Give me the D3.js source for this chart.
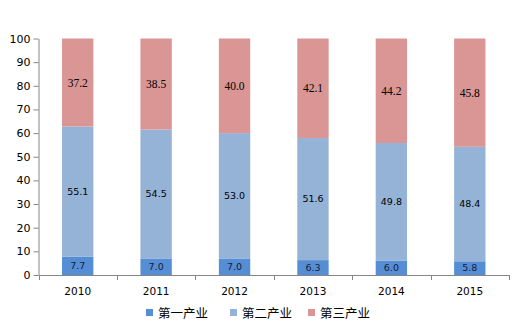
<!DOCTYPE html>
<html><head><meta charset="utf-8">
<script src="https://cdn.jsdelivr.net/npm/d3@7"></script>
<style>body{margin:0;background:#fff}svg{display:block}</style>
</head><body><svg id="c" width="520" height="328"></svg>
<script>
const years = ["2010","2011","2012","2013","2014","2015"];
const primary = [7.7, 7.0, 7.0, 6.3, 6.0, 5.8];
const secondary = [55.1, 54.5, 53.0, 51.6, 49.8, 48.4];
const tertiary = [37.2, 38.5, 40.0, 42.1, 44.2, 45.8];
const seriesNames = ["第一产业","第二产业","第三产业"];
const yTicks = [0,10,20,30,40,50,60,70,80,90,100];

const colors = ["#558ED5","#95B3D7","#D99694"];
const svg = d3.select("#c");
const L = 38.5, R = 509, T = 38.5, B = 275;
const x = d3.scaleBand().domain(years).range([L, R]).paddingInner(0.6).paddingOuter(0.3);
const xb = d3.scaleBand().domain(years).range([L, R]);
const y = d3.scaleLinear().domain([0,100]).range([B, T]);

const rows = years.map((yr,i)=>({year:yr, s0:primary[i], s1:secondary[i], s2:tertiary[i]}));
const stack = d3.stack().keys(["s0","s1","s2"])(rows);

stack.forEach((layer, li) => {
  const g = svg.append("g");
  g.selectAll("rect").data(layer).join("rect")
    .attr("x", d => x(d.data.year))
    .attr("width", x.bandwidth())
    .attr("y", d => y(d[1]))
    .attr("height", d => y(d[0]) - y(d[1]))
    .attr("fill", colors[li]);
  g.selectAll("text").data(layer).join("text")
    .attr("x", d => x(d.data.year) + x.bandwidth()/2)
    .attr("y", d => y((d[0]+d[1])/2))
    .attr("dy", "0.35em")
    .attr("text-anchor","middle")
    .style("font-family", li===2 ? "'Liberation Serif', 'Times New Roman', serif" : "'DejaVu Sans', sans-serif")
    .style("font-size", li===2 ? "11.5px" : "9.5px")
    .attr("fill", li===0 ? "#1a1a3a" : "#000")
    .text(d => (d[1]-d[0]).toFixed(1));
});

// Y axis
const ya = svg.append("g").attr("transform",`translate(${L},0)`)
  .call(d3.axisLeft(y).tickValues(yTicks).tickSize(5).tickSizeOuter(0).tickPadding(3));
ya.select(".domain").attr("stroke","#868686");
ya.selectAll(".tick line").attr("stroke","#868686");
ya.selectAll("text").style("font-family","'DejaVu Sans', sans-serif").style("font-size","11px").attr("fill","#000");

// X axis
const xa = svg.append("g").attr("transform",`translate(0,${B})`)
  .call(d3.axisBottom(xb).tickSize(0).tickPadding(13));
xa.select(".domain").attr("stroke","#868686").attr("d",`M${L},0.5H${R}`);
xa.selectAll("text").style("font-family","'DejaVu Sans', sans-serif").style("font-size","10.5px").attr("fill","#000");
const bounds = years.map(yr => xb(yr)).concat([R]);
svg.append("g").selectAll("line").data(bounds).join("line")
  .attr("x1", d=>Math.round(d)+0.5).attr("x2", d=>Math.round(d)+0.5)
  .attr("y1", B).attr("y2", B+5).attr("stroke","#868686");

// Legend
const legX = [146, 230, 308];
const lg = svg.append("g");
seriesNames.forEach((n,i)=>{
  lg.append("rect").attr("x",legX[i]).attr("y",309).attr("width",7).attr("height",7).attr("fill",colors[i]);
  lg.append("text").attr("x",legX[i]+12).attr("y",313).attr("dy","0.38em")
    .style("font-family","'Noto Sans CJK SC', sans-serif").style("font-size","12.5px").attr("fill","#000").text(n);
});
</script></body></html>
